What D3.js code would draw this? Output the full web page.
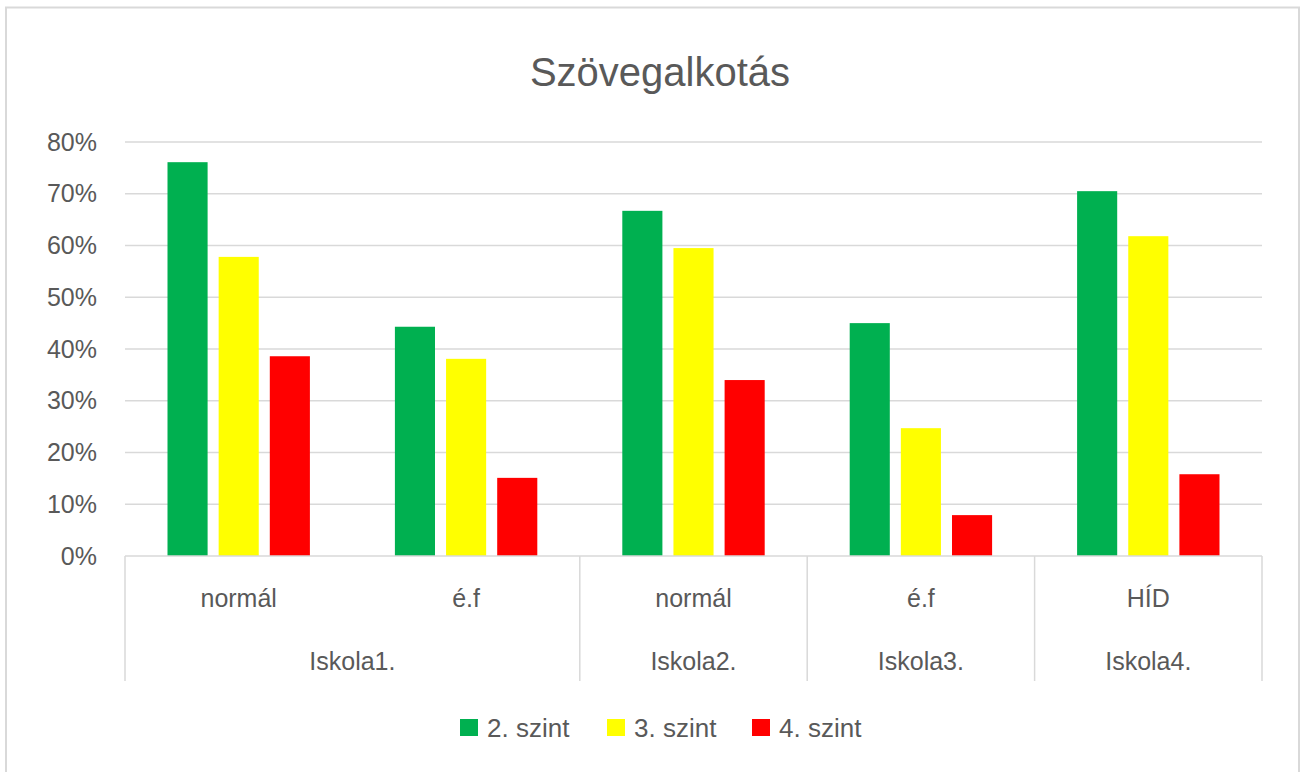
<!DOCTYPE html>
<html>
<head>
<meta charset="utf-8">
<script src="https://cdn.jsdelivr.net/npm/d3@7"></script>
<style>
  body { margin: 0; background: #fff; }
  text { font-family: "Liberation Sans", Arial, sans-serif; fill: #595959; }
</style>
</head>
<body>
<div class="chart"></div>
<script>
var svgWidth = 1305;
var svgHeight = 772;

// data
var schools = ["Iskola1.", "Iskola1.", "Iskola2.", "Iskola3.", "Iskola4."];
var types = ["normál", "é.f", "normál", "é.f", "HÍD"];
var series = ["2. szint", "3. szint", "4. szint"];
var colors = ["#00b050", "#ffff00", "#ff0000"];
var szint2 = [0.761, 0.443, 0.667, 0.450, 0.705];
var szint3 = [0.578, 0.381, 0.595, 0.247, 0.618];
var szint4 = [0.386, 0.151, 0.340, 0.079, 0.158];
var yTicks = [0, 0.1, 0.2, 0.3, 0.4, 0.5, 0.6, 0.7, 0.8];

var margin = { top: 142, left: 125, right: 43, bottom: 216 };
var width = svgWidth - margin.left - margin.right;
var height = svgHeight - margin.top - margin.bottom;

var svg = d3.select(".chart")
  .append("svg")
  .attr("width", svgWidth)
  .attr("height", svgHeight);

// outer frame
svg.append("rect")
  .attr("x", 6)
  .attr("y", 7.5)
  .attr("width", 1293)
  .attr("height", 780)
  .attr("fill", "none")
  .attr("stroke", "#d9d9d9")
  .attr("stroke-width", 2);

svg.append("text")
  .attr("x", 660)
  .attr("y", 86)
  .attr("text-anchor", "middle")
  .style("font-size", "40px")
  .text("Szövegalkotás");

var chartGroup = svg.append("g")
  .attr("transform", `translate(${margin.left}, ${margin.top})`);

var idx = d3.range(types.length);
var x0 = d3.scaleBand().domain(idx).range([0, width]);
var x1 = d3.scaleBand().domain(series)
  .range([42.5, x0.bandwidth() - 42.5])
  .paddingInner(0.216);
var y = d3.scaleLinear().domain([0, 0.8]).range([height, 0]);

// gridlines
chartGroup.append("g")
  .selectAll("line")
  .data(yTicks.slice(1))
  .enter()
  .append("line")
  .attr("x1", 0)
  .attr("x2", width)
  .attr("y1", d => y(d))
  .attr("y2", d => y(d))
  .attr("stroke", "#d9d9d9")
  .attr("stroke-width", 1.5);

// y axis labels
var leftAxis = d3.axisLeft(y)
  .tickValues(yTicks)
  .tickFormat(d3.format(".0%"))
  .tickSize(0)
  .tickPadding(28);
var yAxis = chartGroup.append("g").call(leftAxis);
yAxis.select(".domain").remove();
yAxis.selectAll("text")
  .style("font-size", "25px")
  .attr("fill", "#595959");

// bars
var values = [szint2, szint3, szint4];
var groups = chartGroup.selectAll(".grp")
  .data(idx)
  .enter()
  .append("g")
  .attr("transform", d => `translate(${x0(d)}, 0)`);

groups.selectAll("rect")
  .data(i => series.map((s, k) => ({ s: s, k: k, v: values[k][i] })))
  .enter()
  .append("rect")
  .attr("x", d => x1(d.s))
  .attr("y", d => y(d.v))
  .attr("width", x1.bandwidth())
  .attr("height", d => height - y(d.v))
  .attr("fill", d => colors[d.k]);

// category axis baseline
chartGroup.append("line")
  .attr("x1", 0)
  .attr("x2", width)
  .attr("y1", height)
  .attr("y2", height)
  .attr("stroke", "#d9d9d9")
  .attr("stroke-width", 1.5);

// school group spans
var schoolSpans = [];
schools.forEach(function(s, i) {
  var last = schoolSpans[schoolSpans.length - 1];
  if (last && last.name === s) last.end = i;
  else schoolSpans.push({ name: s, start: i, end: i });
});

var sepX = [0].concat(schoolSpans.map(d => x0(d.end) + x0.bandwidth()));
chartGroup.selectAll(".sep")
  .data(sepX)
  .enter()
  .append("line")
  .attr("x1", d => d)
  .attr("x2", d => d)
  .attr("y1", height)
  .attr("y2", height + 125)
  .attr("stroke", "#d9d9d9")
  .attr("stroke-width", 1.5);

chartGroup.selectAll(".typeLabel")
  .data(idx)
  .enter()
  .append("text")
  .attr("x", d => x0(d) + x0.bandwidth() / 2)
  .attr("y", height + 51)
  .attr("text-anchor", "middle")
  .style("font-size", "25px")
  .text(d => types[d]);

chartGroup.selectAll(".schoolLabel")
  .data(schoolSpans)
  .enter()
  .append("text")
  .attr("x", d => (x0(d.start) + x0(d.end) + x0.bandwidth()) / 2)
  .attr("y", height + 114)
  .attr("text-anchor", "middle")
  .style("font-size", "25px")
  .text(d => d.name);

// legend
var legendX = [460, 607, 752];
var legend = svg.selectAll(".legend")
  .data(series)
  .enter()
  .append("g")
  .attr("transform", (d, i) => `translate(${legendX[i]}, 719)`);

legend.append("rect")
  .attr("width", 18)
  .attr("height", 17)
  .attr("fill", (d, i) => colors[i]);

legend.append("text")
  .attr("x", 27)
  .attr("y", 18)
  .style("font-size", "26px")
  .text(d => d);
</script>
</body>
</html>
